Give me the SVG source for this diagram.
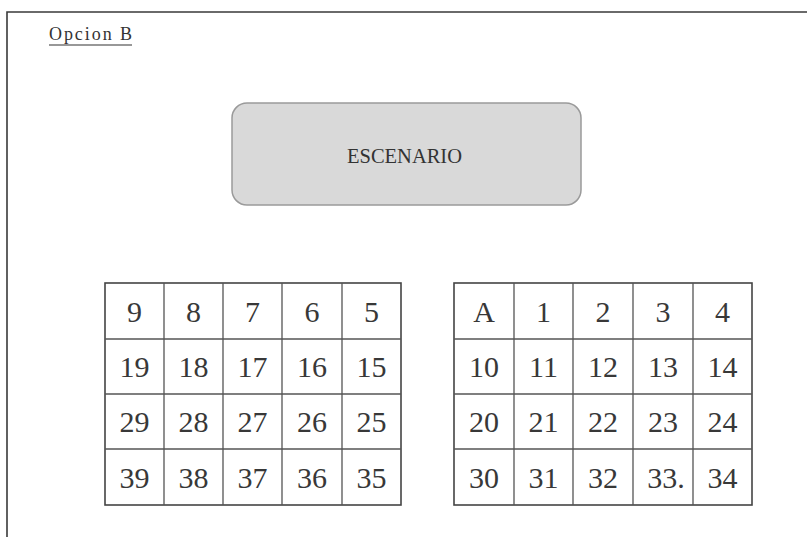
<svg xmlns="http://www.w3.org/2000/svg" width="807" height="537" viewBox="0 0 807 537">
<style>
.frame{fill:none;stroke:#3a3a3a;stroke-width:1.6}
.grid{fill:none;stroke:#555;stroke-width:1.3}
.gridout{fill:none;stroke:#444;stroke-width:1.6}
.num{font-family:"Liberation Serif","Times New Roman",serif;font-size:30px;fill:#383838;text-anchor:middle}
.stage{fill:#d9d9d9;stroke:#9a9a9a;stroke-width:1.5}
.lbl{font-family:"Liberation Serif","Times New Roman",serif;fill:#333}
</style>
<rect width="807" height="537" fill="#fff"/>
<g id="frame">
<path class="frame" d="M7 537 V12 H807"/>
</g>
<g id="title">
<text class="lbl" x="49" y="40" font-size="18" textLength="83" lengthAdjust="spacing">Opcion B</text>
<line x1="49" y1="45" x2="132" y2="45" stroke="#333" stroke-width="1.2"/>
</g>
<g id="escenario">
<rect class="stage" x="232" y="103" width="349" height="102" rx="15"/>
<text class="lbl" x="347" y="163" font-size="21" textLength="115" lengthAdjust="spacingAndGlyphs">ESCENARIO</text>
</g>
<g id="connectors"></g>
<g id="grid-left">
<rect class="gridout" x="105" y="283" width="296" height="222"/>
<path class="grid" d="M164 283V505M223 283V505M282 283V505M342 283V505M105 339H401M105 394H401M105 449H401"/>
<text class="num" x="134.5" y="322">9</text>
<text class="num" x="193.5" y="322">8</text>
<text class="num" x="252.5" y="322" fill="#777">7</text>
<text class="num" x="312" y="322">6</text>
<text class="num" x="371.5" y="322">5</text>
<text class="num" x="134.5" y="377">19</text>
<text class="num" x="193.5" y="377">18</text>
<text class="num" x="252.5" y="377">17</text>
<text class="num" x="312" y="377">16</text>
<text class="num" x="371.5" y="377">15</text>
<text class="num" x="134.5" y="432">29</text>
<text class="num" x="193.5" y="432">28</text>
<text class="num" x="252.5" y="432">27</text>
<text class="num" x="312" y="432">26</text>
<text class="num" x="371.5" y="432">25</text>
<text class="num" x="134.5" y="488">39</text>
<text class="num" x="193.5" y="488">38</text>
<text class="num" x="252.5" y="488">37</text>
<text class="num" x="312" y="488">36</text>
<text class="num" x="371.5" y="488">35</text>
</g>
<g id="grid-right">
<rect class="gridout" x="454" y="283" width="298" height="222"/>
<path class="grid" d="M514 283V505M573 283V505M633 283V505M693 283V505M454 339H752M454 394H752M454 449H752"/>
<text class="num" x="484" y="322">A</text>
<text class="num" x="543.5" y="322">1</text>
<text class="num" x="603" y="322">2</text>
<text class="num" x="663" y="322">3</text>
<text class="num" x="722.5" y="322">4</text>
<text class="num" x="484" y="377">10</text>
<text class="num" x="543.5" y="377">11</text>
<text class="num" x="603" y="377">12</text>
<text class="num" x="663" y="377">13</text>
<text class="num" x="722.5" y="377">14</text>
<text class="num" x="484" y="432">20</text>
<text class="num" x="543.5" y="432">21</text>
<text class="num" x="603" y="432">22</text>
<text class="num" x="663" y="432">23</text>
<text class="num" x="722.5" y="432">24</text>
<text class="num" x="484" y="488">30</text>
<text class="num" x="543.5" y="488">31</text>
<text class="num" x="603" y="488">32</text>
<text class="num" x="666" y="488">33.</text>
<text class="num" x="722.5" y="488">34</text>
</g>
</svg>
